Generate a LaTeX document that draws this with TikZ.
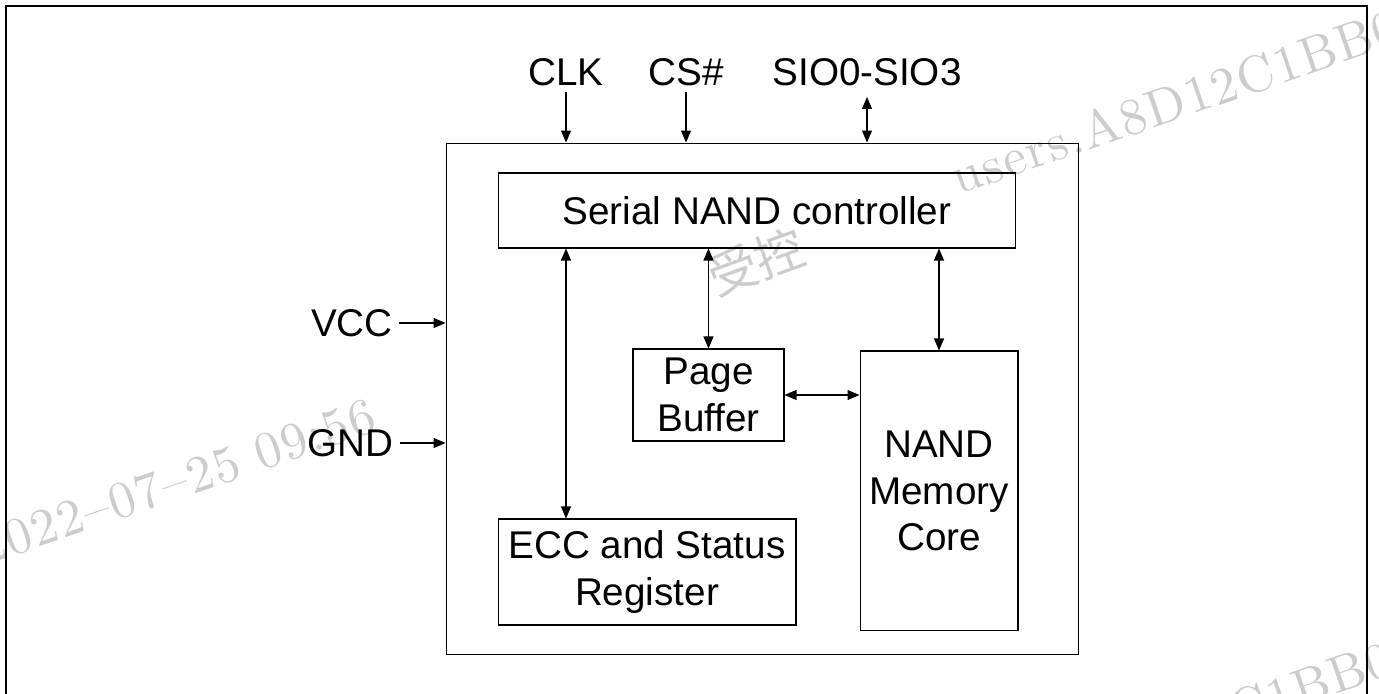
\documentclass[tikz,border=0pt]{standalone}
\usepackage{fontspec}
\setsansfont{Liberation Sans}
\newfontfamily\cjkfont{Noto Sans CJK SC}
\newfontfamily\wmfont{lmroman10-regular}[Extension=.otf, LetterSpace=3]
\usepackage{tikz}
\usetikzlibrary{arrows.meta}

\tikzset{
	blk/.style={draw, line width=0.6pt, inner sep=0pt, align=center,
		font=\sffamily\fontsize{22}{26.6}\selectfont},
	lbl/.style={font=\sffamily\fontsize{22}{26.6}\selectfont},
	wm/.style={black!20, font=\wmfont\fontsize{29.5}{30}\selectfont, rotate=19},
	sig/.style={line width=0.6pt, -{Triangle[length=0.24cm,width=0.2cm]}},
	bisig/.style={line width=0.6pt, {Triangle[length=0.24cm,width=0.2cm]}-{Triangle[length=0.24cm,width=0.2cm]}}
}

\begin{document}
\begin{tikzpicture}[x=0.02cm,y=0.02cm]
					\useasboundingbox (0,0) rectangle (1379,693);
					\clip (0,0) rectangle (1379,693);

					%Watermarks
					\node[wm, anchor=base west] (wma) at (953,496) {users.A8D12C1BB01};
					\node[wm, anchor=base east] (wmb) at (385,265) {2022–07–25 09:56};
					\node[wm, anchor=center, font=\cjkfont\fontsize{28}{30}\selectfont, rotate=1] (wmc) at (756,431) {受控};
					\node[wm, anchor=base east] (wmd) at (1428,30) {users.A8D12C1BB01};

					%Frame
					\draw[line width=1.1pt] (6,-10) -- (6,687) -- (1367,687) -- (1367,-10);

					%Nodes
					\node[blk, minimum width=12.66cm, minimum height=10.24cm] (chip) at (762.5,294) {};
					\node[blk, minimum width=10.36cm, minimum height=1.5cm]  (ctrl) at (757,482.5) {Serial NAND controller};
					\node[blk, minimum width=3.02cm,  minimum height=1.84cm] (pb)   at (708.5,298) {Page\\Buffer};
					\node[blk, minimum width=3.16cm,  minimum height=5.6cm]  (core) at (939,202)   {NAND\\Memory\\Core};
					\node[blk, minimum width=5.96cm,  minimum height=2.12cm] (ecc)  at (647,121)   {ECC and Status\\Register};

					\node[lbl, anchor=south] (clk) at (566,601) {CLK};
					\node[lbl, anchor=south] (cs)  at (686,601) {CS\#};
					\node[lbl, anchor=south] (sio) at (867,601) {SIO0-SIO3};
					\node[lbl, anchor=east]  (vcc) at (399,370) {VCC};
					\node[lbl, anchor=east]  (gnd) at (400,250) {GND};

					%Lines
					\draw[sig] (clk.south) -- (clk.south |- chip.north);
					\draw[sig] (cs.south) -- (cs.south |- chip.north);
					\draw[bisig] ([yshift=-0.1cm]sio.south) -- (sio.south |- chip.north);
					\draw[sig] (vcc.east) -- (vcc.east -| chip.west);
					\draw[sig] (gnd.east) -- (gnd.east -| chip.west);

					\draw[bisig] (ecc.north -| clk) -- (ctrl.south -| clk);
					\draw[bisig] (pb.north) -- (pb.north |- ctrl.south);
					\draw[bisig] (core.north) -- (core.north |- ctrl.south);
					\draw[bisig] (pb.east) -- (pb.east -| core.west);

\end{tikzpicture}
\end{document}
